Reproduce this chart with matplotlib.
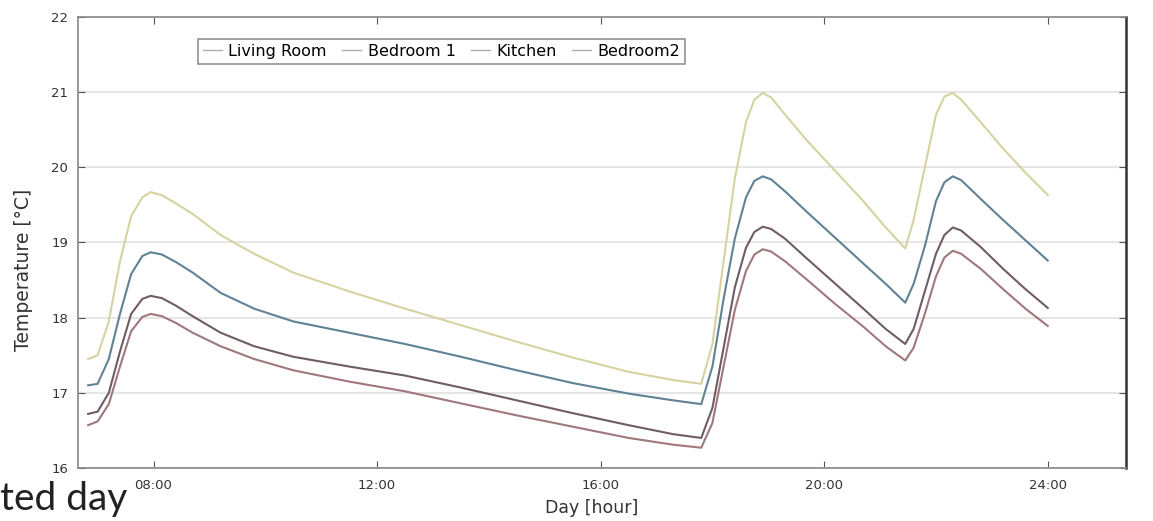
import matplotlib
matplotlib.use("Agg")
import matplotlib.pyplot as plt

plt.rcParams['font.family'] = ['DejaVu Sans']

# time of day in hours
hours = [6.83, 7.0, 7.2, 7.4, 7.6, 7.8, 7.95, 8.15, 8.4, 8.7, 9.2, 9.8, 10.5,
         11.5, 12.5, 13.5, 14.5, 15.5, 16.5, 17.3, 17.8, 18.0, 18.2, 18.4,
         18.6, 18.75, 18.9, 19.05, 19.3, 19.7, 20.2, 20.7, 21.1, 21.45, 21.6,
         21.8, 22.0, 22.15, 22.3, 22.45, 22.8, 23.2, 23.6, 24.0]

living_room = [17.10, 17.12, 17.45, 18.05, 18.58, 18.82, 18.87, 18.84, 18.74,
               18.60, 18.33, 18.12, 17.95, 17.80, 17.65, 17.48, 17.30, 17.13,
               16.99, 16.90, 16.85, 17.35, 18.25, 19.05, 19.60, 19.82, 19.88,
               19.84, 19.68, 19.40, 19.06, 18.72, 18.45, 18.20, 18.45, 18.95,
               19.55, 19.80, 19.88, 19.83, 19.58, 19.30, 19.03, 18.76]

bedroom1 = [16.57, 16.62, 16.85, 17.35, 17.82, 18.01, 18.05, 18.02, 17.93,
            17.80, 17.62, 17.45, 17.30, 17.15, 17.02, 16.86, 16.70, 16.55,
            16.40, 16.31, 16.27, 16.60, 17.35, 18.10, 18.62, 18.84, 18.91,
            18.88, 18.75, 18.50, 18.18, 17.88, 17.62, 17.43, 17.60, 18.05,
            18.55, 18.80, 18.89, 18.85, 18.65, 18.38, 18.12, 17.89]

kitchen = [17.45, 17.50, 17.95, 18.75, 19.35, 19.60, 19.67, 19.63, 19.52,
           19.38, 19.10, 18.85, 18.60, 18.35, 18.12, 17.90, 17.68, 17.47,
           17.28, 17.17, 17.12, 17.65, 18.75, 19.85, 20.60, 20.90, 20.99,
           20.93, 20.70, 20.35, 19.95, 19.55, 19.20, 18.92, 19.30, 20.00,
           20.70, 20.94, 20.99, 20.90, 20.60, 20.25, 19.93, 19.63]

bedroom2 = [16.72, 16.75, 17.00, 17.55, 18.05, 18.25, 18.29, 18.26, 18.16,
            18.02, 17.80, 17.62, 17.48, 17.35, 17.23, 17.07, 16.90, 16.73,
            16.57, 16.45, 16.40, 16.80, 17.60, 18.40, 18.93, 19.14, 19.21,
            19.18, 19.05, 18.78, 18.45, 18.12, 17.85, 17.65, 17.85, 18.35,
            18.85, 19.10, 19.20, 19.16, 18.94, 18.65, 18.38, 18.13]

x_ticks = [8, 12, 16, 20, 24]
x_tick_labels = ["08:00", "12:00", "16:00", "20:00", "24:00"]
y_ticks = [16, 17, 18, 19, 20, 21, 22]

fig = plt.figure(figsize=(11.53, 5.21), dpi=100)
ax = fig.add_axes([0.0677, 0.1017, 0.9089, 0.8657])

ax.plot(hours, living_room, color="#5f8294", lw=1.5, label="Living Room")
ax.plot(hours, bedroom1, color="#a0787c", lw=1.5, label="Bedroom 1")
ax.plot(hours, kitchen, color="#d6d3a0", lw=1.5, label="Kitchen")
ax.plot(hours, bedroom2, color="#6f5c66", lw=1.5, label="Bedroom2")

ax.set_xlim(6.65, 25.4)
ax.set_ylim(16, 22)
ax.set_xticks(x_ticks)
ax.set_xticklabels(x_tick_labels)
ax.set_yticks(y_ticks)
ax.tick_params(direction="in", top=True, right=True, length=5,
               labelsize=9.5, colors="#555555", labelcolor="#333333")
ax.tick_params(axis="x", pad=8)
ax.tick_params(axis="y", pad=7)
ax.grid(axis="y", color="#e6e6e6", lw=1.5)
ax.set_axisbelow(True)
for side in ["top", "left", "bottom"]:
    ax.spines[side].set_color("#888888")
    ax.spines[side].set_linewidth(1.2)
ax.spines["right"].set_color("#333333")
ax.spines["right"].set_linewidth(1.8)

ax.set_xlabel("Day [hour]", fontsize=12.5, color="#333333")
ax.xaxis.set_label_coords(0.49, -0.068)
ax.set_ylabel("Temperature [°C]", fontsize=13.5, color="#333333")
ax.yaxis.set_label_coords(-0.043, 0.44)

leg = ax.legend(loc="upper left", bbox_to_anchor=(0.1145, 0.951), ncol=4,
                fontsize=11.5, frameon=True, fancybox=False, borderaxespad=0,
                handlelength=1.2, handletextpad=0.4, columnspacing=0.95,
                borderpad=0.3)
leg.get_frame().set_edgecolor("#777777")
leg.get_frame().set_linewidth(1.2)
for line in leg.get_lines():
    line.set_color("#b0b0b0")
    line.set_linewidth(1.0)

# cropped slide caption at the bottom left
fig.text(0.0, 0.022, "ted day", fontsize=28, family=["Lato", "DejaVu Sans"],
         color="#222222", ha="left", va="baseline")

fig.savefig("out.png", dpi=100)
